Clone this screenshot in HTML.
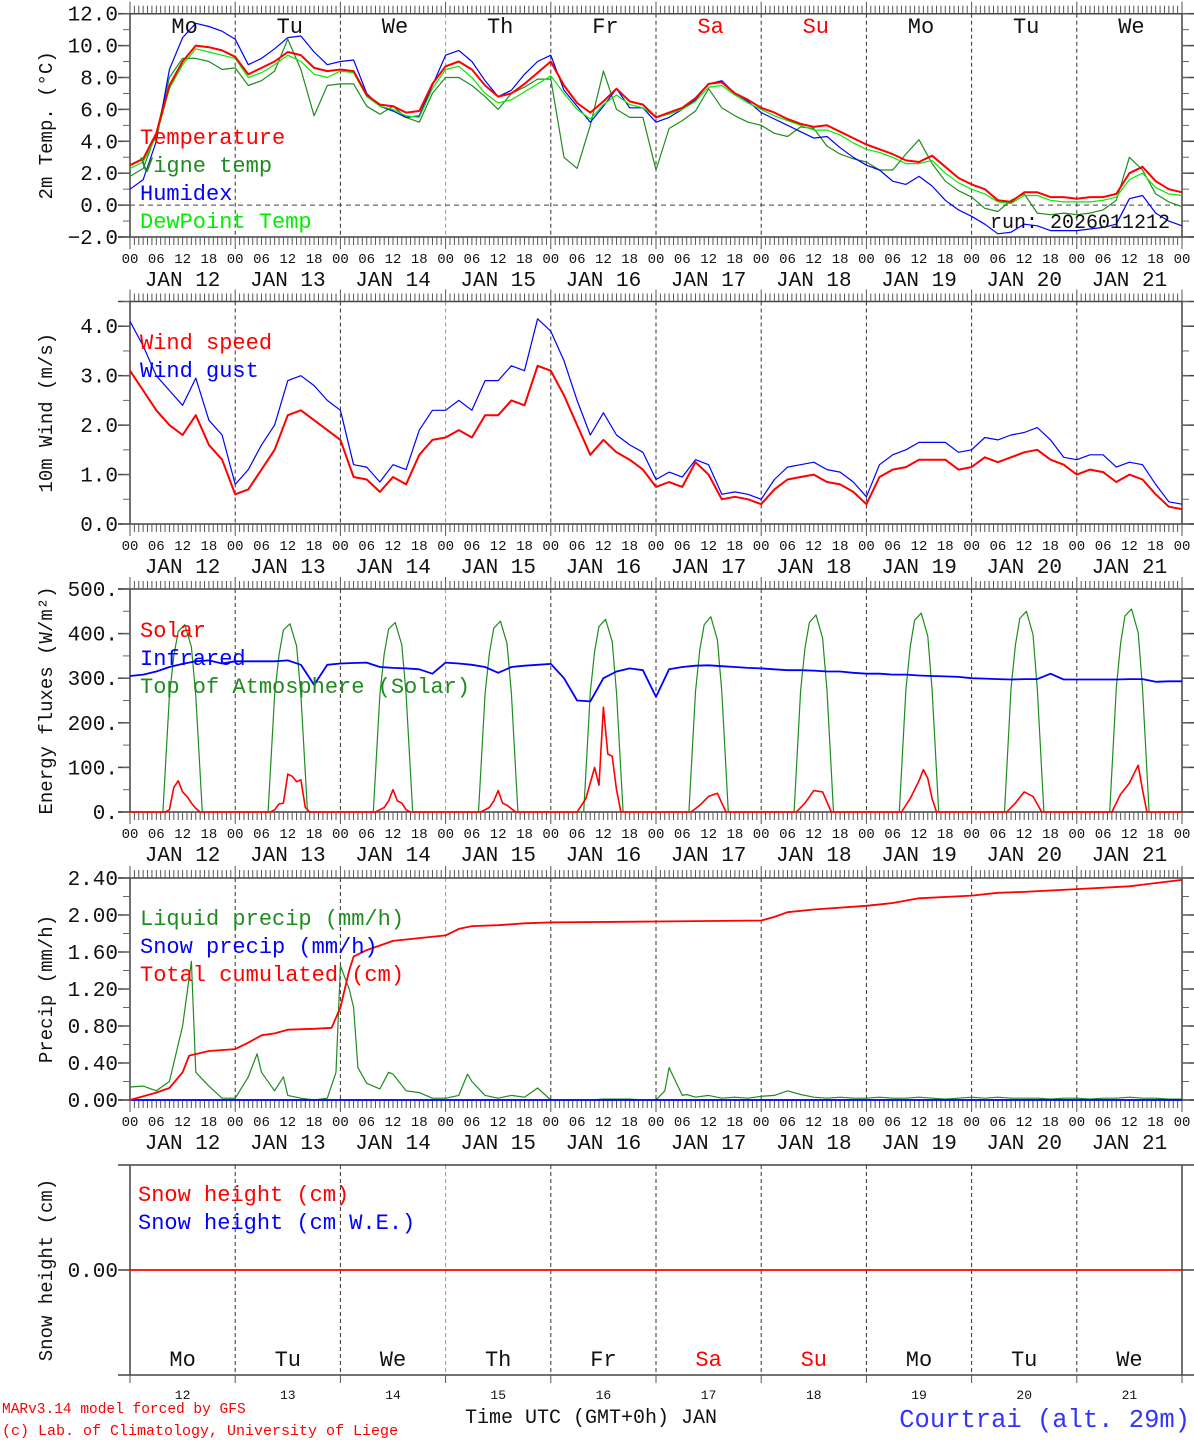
<!DOCTYPE html>
<html><head><meta charset="utf-8"><style>
html,body{margin:0;padding:0;background:#fff;}
svg{display:block;font-family:"Liberation Mono",monospace;}
</style></head><body>
<svg id="chart" width="1194" height="1440" viewBox="0 0 1194 1440" xmlns="http://www.w3.org/2000/svg"></svg>
<script>
// ---------- DATA (3-hourly, hour 0..240 from JAN 12 00 UTC) ----------
const dayNames = ["Mo","Tu","We","Th","Fr","Sa","Su","Mo","Tu","We"];
const dayDates = ["12","13","14","15","16","17","18","19","20","21"];
const hourLabels = ["00","06","12","18"];
const tempTicks = [12,10,8,6,4,2,0,-2];
const tempTickLabels = ["12.0","10.0","8.0","6.0","4.0","2.0","0.0","\u22122.0"];
const windTicks = [4,3,2,1,0];
const windTickLabels = ["4.0","3.0","2.0","1.0","0.0"];
const fluxTicks = [500,400,300,200,100,0];
const fluxTickLabels = ["500.","400.","300.","200.","100.","0."];
const precTicks = [2.4,2.0,1.6,1.2,0.8,0.4,0];
const precTickLabels = ["2.40","2.00","1.60","1.20","0.80","0.40","0.00"];

const tempRed = [2.5,2.9,4.5,7.5,9.0,10.0,9.9,9.7, 9.3,8.2,8.6,9.0,9.6,9.4,8.6,8.4, 8.5,8.4,6.9,6.3,6.2,5.8,5.9,7.6,
 8.7,9.0,8.5,7.5,6.8,7.0,7.6,8.3, 9.0,7.5,6.4,5.8,6.5,7.3,6.5,6.3, 5.5,5.8,6.1,6.7,7.6,7.7,7.0,6.6,
 6.1,5.8,5.4,5.1,4.9,5.0,4.6,4.2, 3.8,3.5,3.2,2.8,2.7,3.1,2.4,1.7, 1.3,1.0,0.3,0.2,0.8,0.8,0.5,0.5,
 0.4,0.5,0.5,0.7,2.0,2.4,1.5,1.0,0.8];
const tempDew = [2.3,2.7,4.3,7.3,8.8,9.8,9.6,9.4, 9.2,8.0,8.3,8.8,9.4,9.0,8.2,8.0, 8.4,8.3,6.8,6.2,6.0,5.6,5.5,7.3,
 8.5,8.7,8.0,7.0,6.4,6.6,7.1,7.6, 8.1,7.0,6.0,5.4,6.3,6.9,6.3,6.1, 5.5,5.7,6.0,6.5,7.4,7.5,6.9,6.4,
 6.0,5.6,5.3,5.0,4.7,4.7,4.4,3.9, 3.5,3.3,3.0,2.6,2.6,2.8,2.0,1.4, 1.0,0.7,0.2,0.1,0.6,0.6,0.3,0.2,
 0.2,0.2,0.3,0.5,1.6,2.0,1.1,0.7,0.6];
const tempHumidex = [1.0,1.6,4.0,8.5,10.5,11.4,11.2,10.9, 10.4,8.8,9.2,9.8,10.5,10.6,9.6,8.8, 9.0,9.1,7.0,6.2,5.9,5.5,5.6,7.5,
 9.4,9.7,9.0,7.8,6.8,7.2,8.2,9.0, 9.4,7.2,6.2,5.2,6.2,7.3,6.1,6.1, 5.2,5.5,6.0,6.6,7.6,7.8,7.0,6.5,
 5.8,5.4,5.0,4.6,4.2,4.3,3.6,3.0, 2.5,2.2,1.5,1.3,1.8,1.2,0.3,-0.3, -0.7,-1.2,-1.8,-1.7,-1.2,-1.3,-1.6,-1.6,
 -1.6,-1.5,-1.4,-1.2,0.4,0.6,-0.5,-1.0,-1.3];
const tempVigne = [1.8,2.3,4.5,8.0,9.2,9.2,9.0,8.5, 8.6,7.5,7.8,8.4,10.4,8.5,5.6,7.5, 7.6,7.6,6.2,5.7,6.2,5.5,5.2,7.0,
 8.0,8.0,7.5,6.8,6.0,7.0,7.4,7.9, 7.9,3.0,2.3,5.0,8.4,6.0,5.5,5.5, 2.2,4.8,5.3,5.9,7.3,6.1,5.6,5.2,
 5.0,4.5,4.3,4.9,4.8,3.7,3.2,2.9, 2.7,2.2,2.2,3.2,4.1,2.6,1.5,0.9, 0.5,-0.2,-0.4,0.3,0.7,-0.5,-0.6,-0.5,
 -0.6,-0.5,-0.3,0.3,3.0,2.2,0.7,0.2,-0.1];

const windSpeed = [3.1,2.7,2.3,2.0,1.8,2.2,1.6,1.3, 0.6,0.7,1.1,1.5,2.2,2.3,2.1,1.9, 1.7,0.95,0.9,0.65,0.95,0.8,1.4,1.7,
 1.75,1.9,1.75,2.2,2.2,2.5,2.4,3.2, 3.1,2.6,2.0,1.4,1.7,1.45,1.3,1.1, 0.75,0.85,0.75,1.25,1.0,0.5,0.55,0.5,
 0.4,0.7,0.9,0.95,1.0,0.85,0.8,0.65, 0.4,0.95,1.1,1.15,1.3,1.3,1.3,1.1, 1.15,1.35,1.25,1.35,1.45,1.5,1.3,1.2,
 1.0,1.1,1.05,0.85,1.0,0.9,0.6,0.35,0.3];
const windGust = [4.1,3.6,3.0,2.7,2.4,2.95,2.1,1.8, 0.8,1.1,1.6,2.0,2.9,3.0,2.8,2.5, 2.3,1.2,1.15,0.85,1.2,1.1,1.9,2.3,
 2.3,2.5,2.3,2.9,2.9,3.2,3.1,4.15, 3.9,3.3,2.5,1.8,2.25,1.8,1.6,1.45, 0.9,1.05,0.95,1.3,1.2,0.6,0.65,0.6,
 0.5,0.9,1.15,1.2,1.25,1.1,1.05,0.85, 0.55,1.2,1.4,1.5,1.65,1.65,1.65,1.45, 1.5,1.75,1.7,1.8,1.85,1.95,1.7,1.35,
 1.3,1.4,1.4,1.15,1.25,1.2,0.8,0.45,0.4];

const infrared = [305,308,315,325,332,338,340,333, 338,338,338,338,340,330,285,330, 333,334,335,325,323,322,320,310,
 335,333,330,325,312,325,328,330, 332,300,250,248,300,315,322,318, 258,320,325,328,329,327,325,323,
 322,320,318,318,317,315,315,312, 310,310,308,308,306,305,304,303, 300,299,298,297,298,298,310,297,
 297,297,297,297,298,298,292,293,293];

const toaHours = [0,7.5,9,10,11,12.5,14,15,16.5, 31.5,33,34,35,36.5,38,39,40.5, 55.5,57,58,59,60.5,62,63,64.5,
 79.5,81,82,83,84.5,86,87,88.5, 103.5,105,106,107,108.5,110,111,112.5, 127.5,129,130,131,132.5,134,135,136.5,
 151.5,153,154,155,156.5,158,159,160.5, 175.5,177,178,179,180.5,182,183,184.5, 199.5,201,202,203,204.5,206,207,208.5,
 223.5,225,226,227,228.5,230,231,232.5,240];
const toaValues = [0,0,260,350,405,420,370,260,0, 0,262,352,408,422,372,262,0, 0,264,354,410,425,375,264,0,
 0,266,356,412,428,378,266,0, 0,268,360,416,432,382,268,0, 0,270,364,420,438,386,270,0,
 0,272,368,425,442,390,272,0, 0,274,370,430,446,394,274,0, 0,276,374,434,450,398,276,0,
 0,278,378,440,455,402,278,0,0];
const solarHours = [0,8,9,10,11,12,13,14,15,16, 32,33,34,35,36,37,38,39,40,41, 56,58,59,60,61,62,63,64,
 80,82,83,84,85,86,88, 102,104,106,107,108,109,110,111,112, 128,130,132,134,135,136,
 152,154,156,158,160, 176,178,180,181,182,183,184, 200,202,204,206,208, 224,226,228,230,231,232,240];
const solarValues = [0,0,5,55,70,45,35,20,8,0, 0,5,18,20,85,80,68,72,10,0, 0,10,25,50,25,20,5,0,
 0,10,25,48,20,15,0, 0,30,100,60,235,130,125,50,0, 0,15,35,42,20,0,
 0,20,48,45,0, 0,30,70,95,75,30,0, 0,20,45,35,0, 0,40,65,105,50,0,0];

const liqHours = [0,3,6,9,12,14,15,18,21, 24,27,29,30,33,35,36,39,42,45, 47,48,50,51,52,54,57,59,60,63,66,69,
 72,75,77,78,81,84,87,90,93, 96,99,102,105,108,111,114,117,120, 122,123,126,127,129,132,135,138,141,
 144,147,150,153,156,159,162,165,168, 171,174,177,180,183,186,189,192, 195,198,201,204,207,210,213,216, 219,222,225,228,231,234,237,240];
const liqValues = [0.14,0.15,0.10,0.20,0.8,1.5,0.3,0.15,0.02, 0.02,0.25,0.5,0.3,0.1,0.25,0.05,0.02,0.0,0.02, 0.3,1.45,1.2,1.0,0.35,0.18,0.12,0.3,0.28,0.1,0.08,0.02,
 0.02,0.05,0.28,0.2,0.05,0.02,0.05,0.03,0.13, 0.0,0.0,0.0,0.0,0.01,0.01,0.01,0.0,0.0, 0.1,0.35,0.05,0.06,0.03,0.05,0.02,0.03,0.02,
 0.04,0.05,0.1,0.06,0.03,0.02,0.03,0.02,0.02, 0.03,0.02,0.02,0.03,0.02,0.01,0.02,0.03, 0.02,0.03,0.02,0.02,0.02,0.01,0.02,0.02, 0.01,0.02,0.02,0.03,0.02,0.02,0.01,0.01];
const cumHours = [0,6,9,12,13.5,18,24, 27,30,33,36,42,46, 48,50,51,54,57,60,66,72, 75,78,84,90,96, 120,144,147,150,156,168,
 174,180,192, 198,204,216, 228,240];
const cumValues = [0.0,0.08,0.13,0.3,0.48,0.53,0.55, 0.62,0.7,0.72,0.76,0.77,0.78, 1.0,1.4,1.55,1.62,1.67,1.72,1.75,1.78,
 1.85,1.88,1.89,1.91,1.92, 1.93,1.94,1.98,2.03,2.06,2.1, 2.13,2.18,2.21, 2.24,2.25,2.28, 2.31,2.38];
const snowPrecip = [0,0];
const snowHeight = [0,0];

// ---------- DRAWING ----------
const svg = document.getElementById('chart');
const NS = "http://www.w3.org/2000/svg";
const X0 = 130, X1 = 1182;
function xs(h){ return X0 + (X1 - X0) * h / 240; }
function el(tag, attrs, parent){
  const e = document.createElementNS(NS, tag);
  for (const k in attrs) e.setAttribute(k, attrs[k]);
  (parent || svg).appendChild(e);
  return e;
}
function txt(s, x, y, size, color, anchor, parent){
  const t = el('text', {x:x, y:y, 'font-size':size, fill:color, 'text-anchor':anchor||'start'}, parent);
  t.textContent = s;
  return t;
}

const panels = [
  {name:'temperature', top:13.7, bot:237, vmin:-2, vmax:12, ticks:tempTicks, labels:tempTickLabels, minor:1, ylab:'2m Temp. (\u00B0C)'},
  {name:'wind', top:301.5, bot:524, vmin:0, vmax:4.5, ticks:windTicks, labels:windTickLabels, minor:0.5, ylab:'10m Wind (m/s)'},
  {name:'energy', top:589, bot:812, vmin:0, vmax:500, ticks:fluxTicks, labels:fluxTickLabels, minor:50, ylab:'Energy fluxes (W/m\u00B2)'},
  {name:'precip', top:878, bot:1100, vmin:0, vmax:2.4, ticks:precTicks, labels:precTickLabels, minor:0.2, ylab:'Precip (mm/h)'},
  {name:'snow', top:1165, bot:1375, vmin:-1, vmax:1, ticks:[0], labels:["0.00"], minor:0, ylab:'Snow height (cm)'}
];
function ys(p, v){ return p.bot - (v - p.vmin) / (p.vmax - p.vmin) * (p.bot - p.top); }

panels.forEach((p, pi) => {
  const g = el('g', {});
  
  
  for (let d = 1; d < 10; d++) {
    const l = el('line', {x1:xs(d*24), x2:xs(d*24), y1:p.top, y2:p.bot, stroke:(d===3?'#999':'#333'), 'stroke-width':1, 'stroke-dasharray':'4,3'}, g);
    
    
  }
  el('line', {x1:X0-12, x2:X1+12, y1:p.top, y2:p.top, stroke:'#444', 'stroke-width':1.5}, g);
  el('line', {x1:X0-12, x2:X1+12, y1:p.bot, y2:p.bot, stroke:'#444', 'stroke-width':1.5}, g);
  el('line', {x1:X0, x2:X0, y1:p.top, y2:p.bot, stroke:'#444', 'stroke-width':1.5}, g);
  el('line', {x1:X1, x2:X1, y1:p.top, y2:p.bot, stroke:'#444', 'stroke-width':1.5}, g);
  p.ticks.forEach((v, i) => {
    const y = ys(p, v);
    el('line', {x1:X0-12, x2:X0, y1:y, y2:y, stroke:'#444', 'stroke-width':1.5}, g);
    el('line', {x1:X1, x2:X1+12, y1:y, y2:y, stroke:'#444', 'stroke-width':1.5}, g);
    const t = txt(p.labels[i], X0-12, y+7, 21, '#111', 'end', g);
    
    
  });
  if (p.minor) {
    for (let v = p.vmin; v <= p.vmax + 1e-9; v += p.minor) {
      const y = ys(p, v);
      el('line', {x1:X0-7, x2:X0, y1:y, y2:y, stroke:'#666', 'stroke-width':1}, g);
      el('line', {x1:X1, x2:X1+7, y1:y, y2:y, stroke:'#666', 'stroke-width':1}, g);
    }
  }
  if (pi < 4) {
    for (let h = 0; h <= 240; h++) {
      const x = xs(h);
      const big = h % 24 === 0;
      el('line', {x1:x, x2:x, y1:p.top - (big?12:8), y2:p.top, stroke:'#555', 'stroke-width':1}, g);
      el('line', {x1:x, x2:x, y1:p.bot, y2:p.bot + (big?12:8), stroke:'#555', 'stroke-width':1}, g);
    }
    for (let d = 0; d <= 10; d++) {
      for (let k = 0; k < 4; k++) {
        if (d === 10 && k > 0) break;
        const t = txt(hourLabels[k], xs(d*24 + k*6), p.bot + 26, 14, '#111', 'middle', g);
        
        
      }
    }
    for (let d = 0; d < 10; d++) {
      const t = txt('JAN ' + dayDates[d], xs(d*24 + 12), p.bot + 49, 21, '#111', 'middle', g);
      
      
    }
  } else {
    for (let d = 0; d <= 10; d++) {
      el('line', {x1:xs(d*24), x2:xs(d*24), y1:p.bot, y2:p.bot+8, stroke:'#555', 'stroke-width':1}, g);
    }
  }
  const yl = txt(p.ylab, 0, 0, 19, '#111', 'middle', g);
  yl.setAttribute('transform', 'translate(' + 52 + ',' + ((p.top + p.bot) / 2) + ') rotate(-90)');
  
  
});

function series(p, hours, vals, color, width, name){
  let d = '';
  vals.forEach((v, i) => { d += (i ? 'L' : 'M') + xs(hours[i]).toFixed(1) + ',' + ys(p, v).toFixed(1); });
  const path = el('path', {d:d, fill:'none', stroke:color, 'stroke-width':width, 'stroke-linejoin':'round'});
  
  
  return path;
}
function hours3(n){ const a = []; for (let i = 0; i < n; i++) a.push(i*3); return a; }

const P = panels;
const RED = '#ff0000', DG = '#1e8c1e', LG = '#00ee00', BL = '#0000ff';

el('line', {x1:X0, x2:X1, y1:ys(P[0],0), y2:ys(P[0],0), stroke:'#444', 'stroke-dasharray':'5,4', 'stroke-width':1});
series(P[0], hours3(tempVigne.length), tempVigne, DG, 1.2, 'vigne-temp-line');
series(P[0], hours3(tempHumidex.length), tempHumidex, BL, 1.2, 'humidex-line');
series(P[0], hours3(tempDew.length), tempDew, LG, 1.2, 'dewpoint-line');
series(P[0], hours3(tempRed.length), tempRed, RED, 2, 'temperature-line');
series(P[1], hours3(windGust.length), windGust, BL, 1.2, 'wind-gust-line');
series(P[1], hours3(windSpeed.length), windSpeed, RED, 2, 'wind-speed-line');
series(P[2], toaHours, toaValues, DG, 1.2, 'toa-solar-line');
series(P[2], solarHours, solarValues, RED, 1.6, 'solar-line');
series(P[2], hours3(infrared.length), infrared, BL, 1.8, 'infrared-line');
series(P[3], liqHours, liqValues, DG, 1.2, 'liquid-precip-line');
series(P[3], [0,240], snowPrecip, BL, 1.8, 'snow-precip-line');
series(P[3], cumHours, cumValues, RED, 1.8, 'cumulated-precip-line');
series(P[4], [0,240], snowHeight, RED, 1.8, 'snow-height-line');

function legend(items, x, y0, step, name){
  items.forEach((it, i) => {
    const t = txt(it[0], x, y0 + i*step, 22, it[1], 'start');
    
    
  });
}
legend([['Temperature',RED],['Vigne temp',DG],['Humidex',BL],['DewPoint Temp',LG]], 140, 144, 28, 'temperature');
legend([['Wind speed',RED],['Wind gust',BL]], 140, 349, 28, 'wind');
legend([['Solar',RED],['Infrared',BL],['Top of Atmosphere (Solar)',DG]], 140, 637, 28, 'energy');
legend([['Liquid precip (mm/h)',DG],['Snow precip (mm/h)',BL],['Total cumulated (cm)',RED]], 140, 925, 28, 'precip');
legend([['Snow height (cm)',RED],['Snow height (cm W.E.)',BL]], 138, 1201, 28, 'snow');

dayNames.forEach((n, d) => {
  const c = (d === 5 || d === 6) ? RED : '#111';
  const t1 = txt(n, xs(d*24 + 12) + 2, 33, 22, c, 'middle');
  
  
  const t2 = txt(n, xs(d*24 + 12), 1366, 22, c, 'middle');
  
  
  const t3 = txt(dayDates[d], xs(d*24 + 12), 1399, 13, '#111', 'middle');
  
  
});

const run = txt('run: 2026011212', 1170, 228, 20, '#111', 'end');


const xt = txt('Time UTC (GMT+0h) JAN', 591, 1423, 20, '#111', 'middle');


const f1 = txt('MARv3.14 model forced by GFS', 2, 1413, 14.5, RED, 'start');


const f2 = txt('(c) Lab. of Climatology, University of Liege', 2, 1435, 15, RED, 'start');


const loc = txt('Courtrai (alt. 29m)', 1190, 1427, 25.5, '#3333ff', 'end');


</script>
</body></html>
